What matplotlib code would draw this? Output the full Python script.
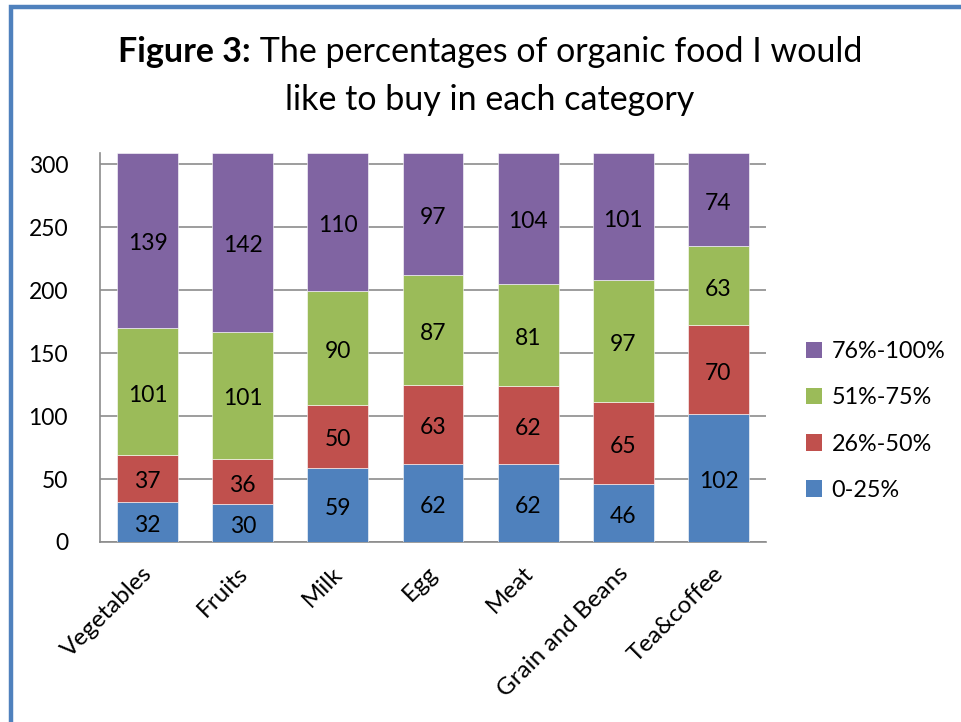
import matplotlib
matplotlib.use("Agg")
import matplotlib.pyplot as plt
from matplotlib.lines import Line2D
from matplotlib.patches import Patch
from matplotlib.transforms import ScaledTranslation
import numpy as np

plt.rcParams['font.family'] = ['Lato', 'DejaVu Sans']

categories = ["Vegetables", "Fruits", "Milk", "Egg", "Meat", "Grain and Beans", "Tea&coffee"]
series_names = ["0-25%", "26%-50%", "51%-75%", "76%-100%"]
s_0_25 = [32, 30, 59, 62, 62, 46, 102]
s_26_50 = [37, 36, 50, 63, 62, 65, 70]
s_51_75 = [101, 101, 90, 87, 81, 97, 63]
s_76_100 = [139, 142, 110, 97, 104, 101, 74]
yticks = [0, 50, 100, 150, 200, 250, 300]

colors = ["#4F81BD", "#C0504D", "#9BBB59", "#8064A2"]

W, H = 961, 722
fig = plt.figure(figsize=(W / 100, H / 100), dpi=100)

# plot area in pixel coordinates
x0, x1, ytop, ybot = 100, 766, 153, 542
ax = fig.add_axes([x0 / W, 1 - ybot / H, (x1 - x0) / W, (ybot - ytop) / H])

series = [s_0_25, s_26_50, s_51_75, s_76_100]
x = np.arange(len(categories))
bottom = np.zeros(len(categories))
handles = []
for vals, name, col in zip(series, series_names, colors):
    bars = ax.bar(x, vals, width=0.64, bottom=bottom, color=col, label=name,
                  edgecolor="white", linewidth=0.4, zorder=3)
    texts = ax.bar_label(bars, labels=[str(v) for v in vals], label_type="center",
                         fontsize=16.5, color="black", zorder=4)
    for t in texts:
        t.xyann = (0, -2.5)
    bottom += np.array(vals)
    handles.append(Patch(facecolor=col, edgecolor="none", label=name))

ax.set_xlim(-0.5, len(categories) - 0.5)
ax.set_ylim(0, max(bottom))
ax.set_yticks(yticks)
ax.set_yticklabels([str(t) for t in yticks])
ax.yaxis.grid(True, color="#8C8C8C", linewidth=1.2, zorder=0)
ax.set_axisbelow(True)

for side in ["top", "right"]:
    ax.spines[side].set_visible(False)
for side in ["left", "bottom"]:
    ax.spines[side].set_color("#8C8C8C")
    ax.spines[side].set_linewidth(1.2)

ax.tick_params(axis="y", length=0, pad=23, labelsize=16.5)
ax.tick_params(axis="x", length=0, pad=15, labelsize=17.5)
ax.set_xticks(x)
ax.set_xticklabels(categories, rotation=45, ha="right", va="top",
                   rotation_mode="anchor")
shift = ScaledTranslation(-6 / 100, 0, fig.dpi_scale_trans)
for lab in ax.get_xticklabels():
    lab.set_transform(lab.get_transform() + shift)

# legend, top entry first
leg = fig.legend(handles=handles[::-1], loc="center left",
                 bbox_to_anchor=(806 / W, 1 - 421 / H), frameon=False,
                 fontsize=16.8, handlelength=0.7, handleheight=0.7,
                 handletextpad=0.4, labelspacing=1.08, borderpad=0,
                 borderaxespad=0)

# title: bold prefix followed by regular text, centred as one line
fig.canvas.draw()
renderer = fig.canvas.get_renderer()
title_size = 24.5
cx = 490 / W
t_bold = fig.text(0, 1 - 52 / H, "Figure 3:", fontsize=title_size,
                  fontweight="bold", ha="left", va="center")
t_rest = fig.text(0, 1 - 52 / H, " The percentages of organic food I would",
                  fontsize=title_size, ha="left", va="center")
wb = t_bold.get_window_extent(renderer).width
wr = t_rest.get_window_extent(renderer).width
start = cx * W - (wb + wr) / 2
t_bold.set_x(start / W)
t_rest.set_x((start + wb) / W)
fig.text(cx, 1 - 100 / H, "like to buy in each category", fontsize=title_size,
         ha="center", va="center")

# blue frame (left and top edges)
frame_col = "#4F81BD"
fig.add_artist(Line2D([11 / W, 11 / W, 1.0], [0.0, 1 - 7 / H, 1 - 7 / H],
                      transform=fig.transFigure, color=frame_col,
                      linewidth=3.2, solid_joinstyle="miter"))

fig.savefig("out.png", dpi=100)
